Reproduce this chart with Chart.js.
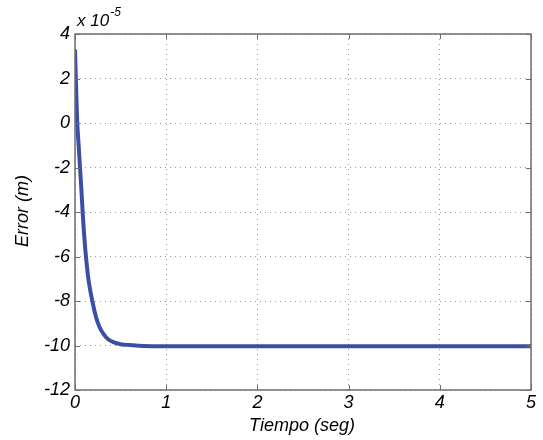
<!DOCTYPE html>
<html>
<head>
<meta charset="utf-8">
<script src="https://cdn.jsdelivr.net/npm/chart.js@4.4.0/dist/chart.umd.min.js"></script>
<style>
  html, body { margin: 0; padding: 0; background: #fff; }
  #wrap { width: 543px; height: 440px; }
</style>
</head>
<body>
<div id="wrap"><canvas id="errorChart" width="543" height="440"></canvas></div>
<script>
// tiempo (seg) y error (x 1e-5 m)
const tiempos = [0, 0.01, 0.025, 0.04, 0.055, 0.07, 0.084, 0.10, 0.12, 0.15, 0.19, 0.23, 0.27, 0.31, 0.36, 0.42, 0.50, 0.60, 0.75, 1.0, 2.0, 3.0, 4.0, 5.0];
const errores = [3.3, 1.9, 0, -1.0, -2.0, -3.0, -4.0, -5.0, -6.0, -7.1, -8.0, -8.72, -9.18, -9.47, -9.71, -9.85, -9.94, -9.98, -10.02, -10.03, -10.03, -10.03, -10.03, -10.03];
const ticksX = [0, 1, 2, 3, 4, 5];
const ticksY = [-12, -10, -8, -6, -4, -2, 0, 2, 4];

const FONT = 'Liberation Sans, Arial, sans-serif';
const AXIS_COLOR = '#6e6e6e';

const puntos = tiempos.map((t, i) => ({ x: t, y: errores[i] }));

// caja y marcas hacia dentro, estilo matlab
const cajaPlugin = {
    id: 'caja',
    afterDraw(chart) {
        const { ctx, chartArea: a, scales } = chart;
        ctx.save();
        ctx.strokeStyle = AXIS_COLOR;
        ctx.lineWidth = 1.5;
        ctx.strokeRect(a.left, a.top, a.right - a.left, a.bottom - a.top);
        ctx.lineWidth = 1;
        ctx.beginPath();
        ticksX.forEach(v => {
            const px = Math.round(scales.x.getPixelForValue(v)) + 0.5;
            ctx.moveTo(px, a.bottom); ctx.lineTo(px, a.bottom - 5);
            ctx.moveTo(px, a.top); ctx.lineTo(px, a.top + 5);
        });
        ticksY.forEach(v => {
            const py = Math.round(scales.y.getPixelForValue(v)) + 0.5;
            ctx.moveTo(a.left, py); ctx.lineTo(a.left + 5, py);
            ctx.moveTo(a.right, py); ctx.lineTo(a.right - 5, py);
        });
        ctx.stroke();

        // textos
        ctx.fillStyle = '#000';
        ctx.font = 'italic 17px ' + FONT;
        ctx.textBaseline = 'alphabetic';
        ctx.textAlign = 'left';
        const base = 'x 10';
        ctx.fillText(base, a.left + 2, 26);
        const w = ctx.measureText(base).width;
        ctx.font = 'italic 12px ' + FONT;
        ctx.fillText('-5', a.left + 2 + w + 1, 16);

        ctx.font = 'italic 18px ' + FONT;
        ctx.textAlign = 'center';
        ctx.fillText('Tiempo (seg)', 302, 431);
        ctx.save();
        ctx.translate(28, 211);
        ctx.rotate(-Math.PI / 2);
        ctx.fillText('Error (m)', 0, 0);
        ctx.restore();
        ctx.restore();
    }
};

new Chart(document.getElementById('errorChart'), {
    type: 'line',
    data: {
        datasets: [{
            label: 'Error',
            data: puntos,
            borderColor: '#3a50a6',
            borderWidth: 4,
            pointRadius: 0,
            tension: 0.4,
            fill: false
        }]
    },
    options: {
        responsive: false,
        animation: false,
        layout: { padding: { top: 34, right: 12, left: 0, bottom: 0 } },
        plugins: { legend: { display: false }, tooltip: { enabled: false } },
        scales: {
            x: {
                type: 'linear',
                min: 0, max: 5,
                afterBuildTicks: s => { s.ticks = ticksX.map(v => ({ value: v })); },
                afterFit: s => { s.height = 50; },
                ticks: {
                    color: '#000',
                    font: { family: FONT, size: 18, style: 'italic' },
                    padding: 2,
                    maxRotation: 0
                },
                grid: { color: '#9a9a9a', lineWidth: 1, drawTicks: false },
                border: { display: false, dash: [1, 4] }
            },
            y: {
                type: 'linear',
                min: -12, max: 4,
                afterBuildTicks: s => { s.ticks = ticksY.map(v => ({ value: v })); },
                afterFit: s => { s.width = 75; },
                ticks: {
                    color: '#000',
                    font: { family: FONT, size: 18, style: 'italic' },
                    padding: 5
                },
                grid: { color: '#9a9a9a', lineWidth: 1, drawTicks: false },
                border: { display: false, dash: [1, 4] }
            }
        }
    },
    plugins: [cajaPlugin]
});
</script>
</body>
</html>
